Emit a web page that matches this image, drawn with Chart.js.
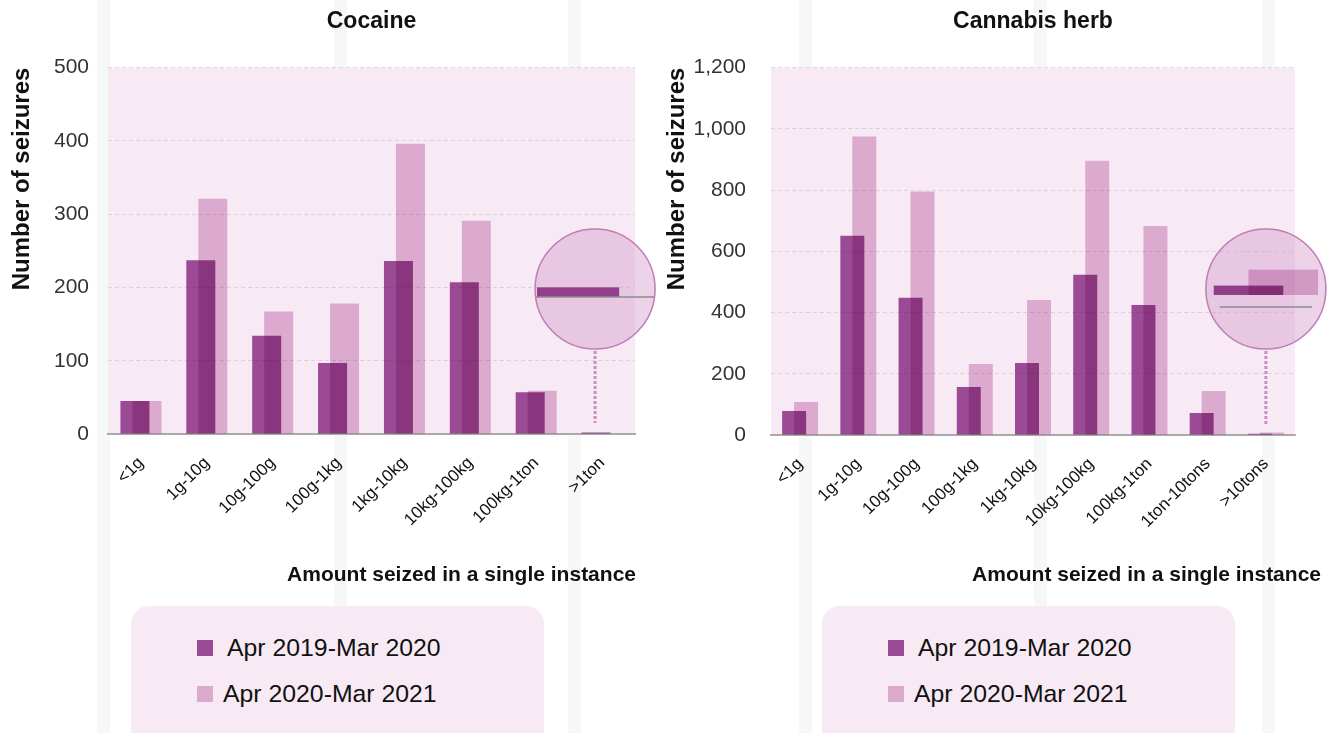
<!DOCTYPE html>
<html>
<head>
<meta charset="utf-8">
<script src="https://cdn.jsdelivr.net/npm/chart.js@4.4.1/dist/chart.umd.min.js"></script>
<style>
body{margin:0;width:1333px;height:733px;overflow:hidden;background:#fff;position:relative;font-family:"Liberation Sans",Arial,sans-serif;}
.stripe{position:absolute;top:0;bottom:0;width:13px;background:#f6f7f7;}
.wrap{position:absolute;top:0;height:600px;}
.xtitle{position:absolute;top:562px;font-weight:bold;font-size:21px;line-height:24px;color:#111;white-space:nowrap;}
.legend{position:absolute;top:606px;width:413px;height:150px;background:#f8eaf4;border-radius:18px;}
.item{position:absolute;font-size:24.8px;line-height:28px;color:#111;white-space:nowrap;}
.sq{position:absolute;left:66px;width:16px;height:16px;mix-blend-mode:multiply;}
</style>
</head>
<body>
<div class="stripe" style="left:97px"></div>
<div class="stripe" style="left:334px"></div>
<div class="stripe" style="left:568px"></div>
<div class="stripe" style="left:799px"></div>
<div class="stripe" style="left:1034px"></div>
<div class="stripe" style="left:1262px"></div>

<div class="wrap" style="left:0;width:666px"><canvas id="cocaine"></canvas></div>
<div class="wrap" style="left:663px;width:670px"><canvas id="cannabis"></canvas></div>

<div class="xtitle" style="right:697px">Amount seized in a single instance</div>
<div class="xtitle" style="right:12px">Amount seized in a single instance</div>

<div class="legend" id="leg1" style="left:131px"></div>
<div class="legend" id="leg2" style="left:822px"></div>

<script>
// values
const seriesNames = ['Apr 2019-Mar 2020', 'Apr 2020-Mar 2021'];
const seriesColors = ['rgb(160,81,156)', 'rgb(227,185,216)'];

const cocaineLabels = ['<1g', '1g-10g', '10g-100g', '100g-1kg', '1kg-10kg', '10kg-100kg', '100kg-1ton', '>1ton'];
const cocaine2019 = [45, 237, 134, 97, 236, 207, 57, 2];
const cocaine2020 = [45, 321, 167, 178, 396, 291, 59, 0];

const cannabisLabels = ['<1g', '1g-10g', '10g-100g', '100g-1kg', '1kg-10kg', '10kg-100kg', '100kg-1ton', '1ton-10tons', '>10tons'];
const cannabis2019 = [78, 651, 448, 157, 235, 523, 425, 72, 4];
const cannabis2020 = [108, 975, 795, 232, 441, 896, 683, 144, 8];

const FONT = '"Liberation Sans", Arial, sans-serif';

const plotBg = {
  id: 'plotBg',
  beforeDraw(chart) {
    const {ctx, chartArea: a} = chart;
    ctx.save();
    ctx.fillStyle = '#f8eaf4';
    ctx.fillRect(a.left, a.top, a.width, a.height);
    ctx.restore();
  }
};

// bars multiply onto whatever is under them
const blend = {
  id: 'blend',
  beforeDatasetDraw(chart) {
    chart.ctx.save();
    chart.ctx.globalCompositeOperation = 'multiply';
  },
  afterDatasetDraw(chart) {
    chart.ctx.restore();
  }
};

// magnifying glass over the last category
const lens = {
  id: 'lens',
  afterDatasetsDraw(chart, args, o) {
    const {ctx} = chart;
    const last = chart.data.labels.length - 1;
    const gx = chart.scales.x.getPixelForValue(last);
    const cx = gx + o.dx, cy = o.cy, r = o.r;
    const zero = chart.scales.y.getPixelForValue(0);
    ctx.save();
    ctx.strokeStyle = '#c98cc3';
    ctx.lineWidth = 3;
    ctx.setLineDash([3, 2]);
    ctx.beginPath();
    ctx.moveTo(cx, cy + r + 2);
    ctx.lineTo(cx, zero - 11);
    ctx.stroke();
    ctx.setLineDash([]);

    ctx.beginPath();
    ctx.arc(cx, cy, r, 0, Math.PI * 2);
    ctx.fillStyle = 'rgba(212,158,204,0.45)';
    ctx.fill();

    ctx.save();
    ctx.clip();
    ctx.globalCompositeOperation = 'multiply';
    for (let i = chart.data.datasets.length - 1; i >= 0; i--) {
      const bar = chart.getDatasetMeta(i).data[last];
      const h = (bar.base - bar.y) * o.sy;
      const w = bar.width * o.sx;
      if (h <= 0) continue;
      ctx.fillStyle = chart.data.datasets[i].backgroundColor;
      ctx.fillRect(cx + (bar.x - gx) * o.sx - w / 2, cy + o.base - h, w, h);
    }
    ctx.restore();

    const half = Math.sqrt(r * r - o.line * o.line) - o.inset;
    ctx.strokeStyle = '#8c8c8c';
    ctx.lineWidth = 1.5;
    ctx.beginPath();
    ctx.moveTo(cx - half, cy + o.line);
    ctx.lineTo(cx + half, cy + o.line);
    ctx.stroke();

    ctx.strokeStyle = 'rgb(190,125,182)';
    ctx.lineWidth = 1.5;
    ctx.beginPath();
    ctx.arc(cx, cy, r, 0, Math.PI * 2);
    ctx.stroke();
    ctx.restore();
  }
};

function makeChart(id, title, labels, a, b, yMax, yStep, opt) {
  return new Chart(document.getElementById(id), {
    type: 'bar',
    data: {
      labels: labels,
      datasets: [
        {label: seriesNames[0], data: a, backgroundColor: seriesColors[0]},
        {label: seriesNames[1], data: b, backgroundColor: seriesColors[1]}
      ]
    },
    options: {
      responsive: true,
      maintainAspectRatio: false,
      animation: false,
      categoryPercentage: opt.catPct,
      barPercentage: opt.barPct,
      layout: {padding: {left: 0, right: opt.right, top: 0, bottom: 0}},
      plugins: {
        legend: {display: false},
        tooltip: {enabled: false},
        title: {
          display: true, text: title, fullSize: false, color: '#111',
          font: {family: FONT, size: 23, weight: 'bold'},
          padding: {top: 8, bottom: 32}
        },
        lens: opt.lens
      },
      scales: {
        x: {
          grid: {display: false, drawTicks: false},
          border: {color: '#aaaaaa', width: 2},
          ticks: {
            color: '#111', font: {family: FONT, size: 17},
            maxRotation: 45, minRotation: 45, padding: 19, autoSkip: false
          },
          afterFit: s => { s.height = opt.xh; }
        },
        y: {
          min: 0, max: yMax,
          grid: {color: 'rgba(215,195,210,0.7)', drawTicks: false},
          border: {display: false, dash: [4, 3]},
          ticks: {stepSize: yStep, color: '#333', font: {family: FONT, size: 21}, padding: opt.tickPad},
          title: {
            display: true, text: 'Number of seizures', align: 'end', color: '#111',
            font: {family: FONT, size: 24, weight: 'bold'},
            padding: {top: opt.titlePad, bottom: 0}
          },
          afterFit: s => { s.width = 108; }
        }
      }
    },
    plugins: [plotBg, blend, lens]
  });
}

makeChart('cocaine', 'Cocaine', cocaineLabels, cocaine2019, cocaine2020, 500, 100, {
  catPct: 0.364, barPct: 2.42, right: 31, xh: 166, tickPad: 19, titlePad: 8,
  lens: {dx: -7, cy: 289, r: 60, sx: 2.83, sy: 10, base: 8, line: 8, inset: 0}
});

makeChart('cannabis', 'Cannabis herb', cannabisLabels, cannabis2019, cannabis2020, 1200, 200, {
  catPct: 0.412, barPct: 2.0, right: 38, xh: 165, tickPad: 25, titlePad: 0,
  lens: {dx: 0, cy: 289, r: 60, sx: 2.9, sy: 13, base: 6, line: 18, inset: 11}
});

// legends
['leg1', 'leg2'].forEach(function(id) {
  const box = document.getElementById(id);
  seriesNames.forEach(function(name, i) {
    const sq = document.createElement('div');
    sq.className = 'sq';
    sq.style.top = (34 + i * 46) + 'px';
    sq.style.background = seriesColors[i];
    box.appendChild(sq);
    const t = document.createElement('div');
    t.className = 'item';
    t.style.left = (i === 0 ? 96 : 92) + 'px';
    t.style.top = (28 + i * 46) + 'px';
    t.textContent = name;
    box.appendChild(t);
  });
});
</script>
</body>
</html>
